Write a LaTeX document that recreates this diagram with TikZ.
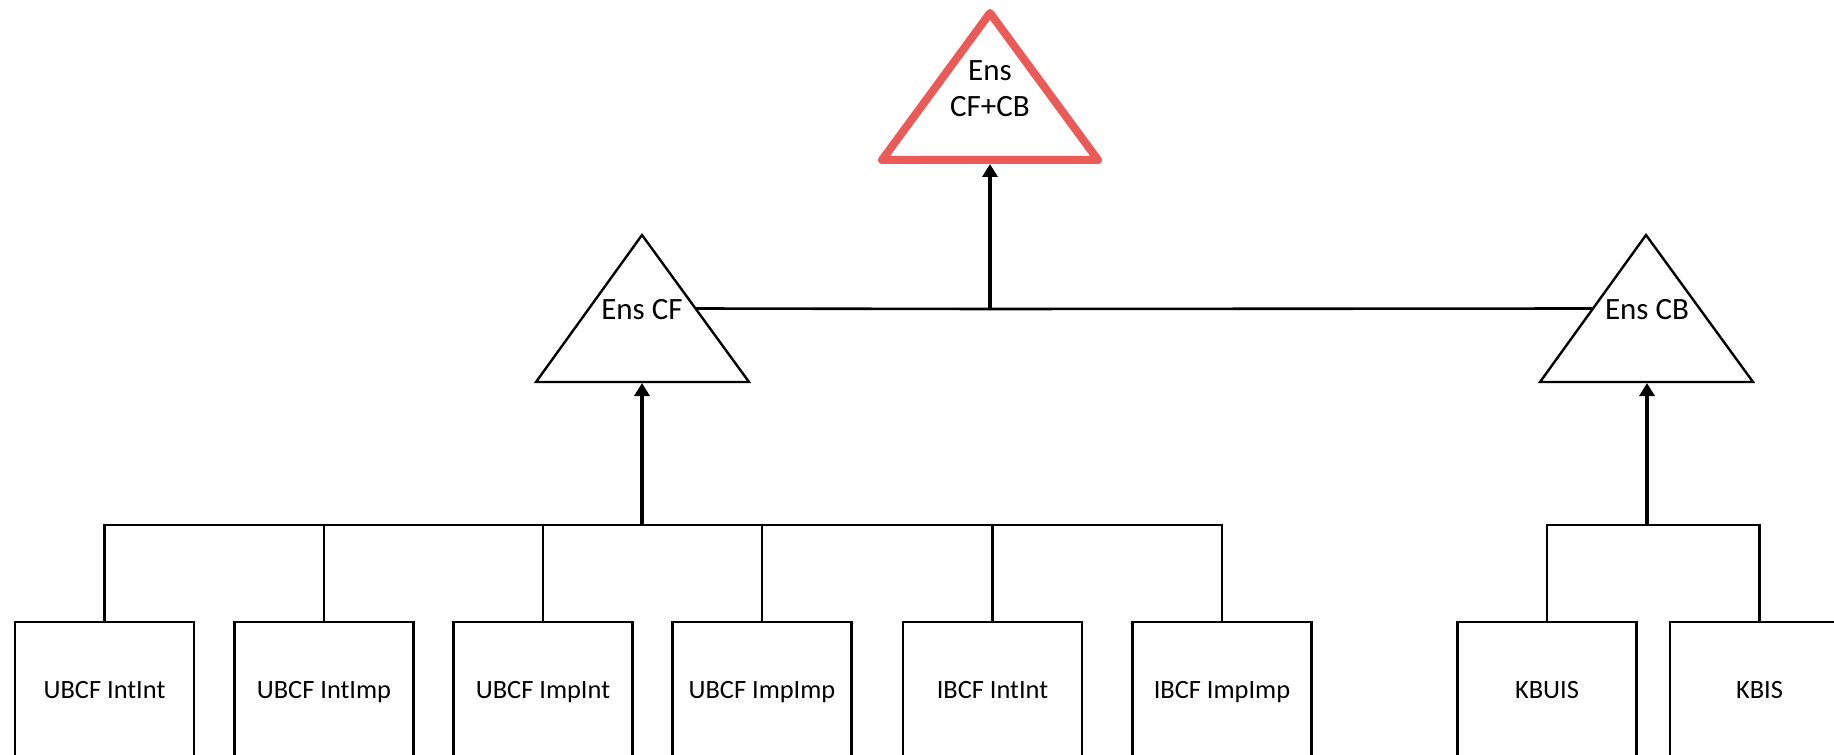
\documentclass[tikz,border=0pt]{standalone}
\usepackage{fontspec}
\setmainfont{Carlito}
\usetikzlibrary{arrows.meta}
\usetikzlibrary{calc}
\definecolor{ensred}{RGB}{234,91,88}

\begin{document}
\begin{tikzpicture}[x=0.5pt, y=-0.5pt,
		link/.style={line width=1.3pt},
		uparrow/.style={line width=1.6pt, -{Triangle[width=7.5pt, length=6.5pt]}},
		tri/.style={line width=1.2pt, line join=miter},
		enslabel/.style={font=\fontsize{15.5}{18}\selectfont, inner sep=0pt},
		model/.style={draw, line width=1.3pt, minimum width=89.5pt, minimum height=68pt, inner sep=0pt, text height=11.3pt, text depth=2.5pt, font=\fontsize{13.2}{15}\selectfont}]
		\useasboundingbox (0, 0) rectangle (1834, 754);

		% Ens CF+CB
		\coordinate (top-apex) at (990, 13);
		\coordinate (top-left) at (882, 160);
		\coordinate (top-right) at (1098, 160);
		\coordinate (top-base) at (990, 160);
		\draw [line width=4pt, draw=ensred, line join=round] (top-apex) -- (top-right) -- (top-left) -- cycle;
		\node [enslabel, align=center] (ens) at (990, 89) {Ens\\CF+CB};

		% Ens CF
		\coordinate (cf-apex) at (642, 235);
		\coordinate (cf-left) at (536, 382);
		\coordinate (cf-right) at (749, 382);
		\coordinate (cf-base) at (642, 383);
		\coordinate (cf-side) at ($(cf-apex)!0.5!(cf-right)$);
		\draw [tri] (cf-apex) -- (cf-right) -- (cf-left) -- cycle;
		\node [enslabel] (enscf) at (642, 310) {Ens CF};

		% Ens CB
		\coordinate (cb-apex) at (1646, 235);
		\coordinate (cb-left) at (1540, 382);
		\coordinate (cb-right) at (1753, 382);
		\coordinate (cb-base) at (1647, 383);
		\coordinate (cb-side) at ($(cb-apex)!0.5!(cb-left)$);
		\draw [tri] (cb-apex) -- (cb-right) -- (cb-left) -- cycle;
		\node [enslabel] (enscb) at (1647, 310) {Ens CB};

		% Modellerna
		\node [model] (ubcfii) at (104.5, 690) {UBCF IntInt};
		\node [model] (ubcfim) at (324, 690) {UBCF IntImp};
		\node [model] (ubcfmi) at (543, 690) {UBCF ImpInt};
		\node [model] (ubcfmm) at (762, 690) {UBCF ImpImp};
		\node [model] (ibcfii) at (992.5, 690) {IBCF IntInt};
		\node [model] (ibcfmm) at (1222, 690) {IBCF ImpImp};
		\node [model] (kbuis) at (1547, 690) {KBUIS};
		\node [model] (kbis) at (1759.5, 690) {KBIS};

		% Samlingslinjer
		\coordinate (cf-bus) at (642, 525);
		\coordinate (cb-bus) at (1647, 525);
		\coordinate (ens-bus) at (990, 309);

		\draw [link] (ubcfii.north) |- (cf-bus);
		\draw [link] (ubcfim.north) |- (cf-bus);
		\draw [link] (ubcfmi.north) |- (cf-bus);
		\draw [link] (ubcfmm.north) |- (cf-bus);
		\draw [link] (ibcfii.north) |- (cf-bus);
		\draw [link] (ibcfmm.north) |- (cf-bus);
		\draw [link] (kbuis.north) |- (cb-bus);
		\draw [link] (kbis.north) |- (cb-bus);

		\draw [uparrow] (cf-bus) -- (cf-base);
		\draw [uparrow] (cb-bus) -- (cb-base);

		\draw [link] (cf-side) -- (ens-bus) -- (cb-side);
		\draw [uparrow, line width=2pt, shorten >=2pt] (ens-bus) -- (top-base);
	\end{tikzpicture}
\end{document}
